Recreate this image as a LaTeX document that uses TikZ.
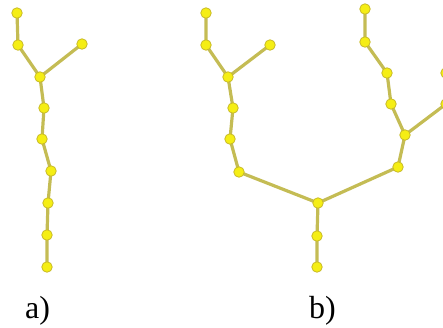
\documentclass[tikz,border=0pt]{standalone}
\usepackage{fontspec}
\setmainfont{Liberation Serif}
\usepackage{xcolor}
\usetikzlibrary{backgrounds}
\definecolor{stemcol}{RGB}{196,188,84}
\definecolor{beadcol}{RGB}{245,238,20}
\definecolor{rimcol}{RGB}{200,186,40}
\begin{document}
\begin{tikzpicture}[x=1pt,y=-1pt,
  bead/.style={shape=circle,fill=beadcol,draw=rimcol,line width=0.8pt,minimum size=10.5pt,inner sep=0pt},
  stem/.style={draw=stemcol,line width=3.2pt},
  lbl/.style={anchor=base west,inner sep=0pt,font=\fontsize{32}{38}\selectfont}]
\useasboundingbox(0,0)rectangle(443,327);
\clip(0,0)rectangle(443,327);
% a) single chain
\node[bead](a1)at(17,13){};
\node[bead](a2)at(18,45){};
\node[bead](a3)at(82,44){};
\node[bead](a4)at(40,77){};
\node[bead](a5)at(44,108){};
\node[bead](a6)at(42,139){};
\node[bead](a7)at(51,171){};
\node[bead](a8)at(48,203){};
\node[bead](a9)at(47,235){};
\node[bead](a10)at(47,267){};
% b) branched chain
\node[bead](b1)at(206,13){};
\node[bead](b2)at(206,45){};
\node[bead](b3)at(270,45){};
\node[bead](b4)at(228,77){};
\node[bead](b5)at(233,108){};
\node[bead](b6)at(230,139){};
\node[bead](b7)at(239,172){};
\node[bead](c1)at(318,203){};
\node[bead](c2)at(317,236){};
\node[bead](c3)at(317,267){};
\node[bead](r7)at(398,167){};
\node[bead](r6)at(405,135){};
\node[bead](r5)at(391,104){};
\node[bead](r4)at(387,73){};
\node[bead](r3)at(365,42){};
\node[bead](r2)at(365,9){};
\node[bead](s1)at(446,104){};
\node[bead](s2)at(446,73){};
\begin{pgfonlayer}{background}
\draw[stem](a1.center)--(a2.center)--(a4.center)--(a5.center)--(a6.center)--(a7.center)--(a8.center)--(a9.center)--(a10.center)
(a3.center)--(a4.center);
\draw[stem](b1.center)--(b2.center)--(b4.center)--(b5.center)--(b6.center)--(b7.center)--(c1.center)--(c2.center)--(c3.center)
(b3.center)--(b4.center)
(c1.center)--(r7.center)--(r6.center)--(r5.center)--(r4.center)--(r3.center)--(r2.center)
(r6.center)--(s1.center)--(s2.center);
\end{pgfonlayer}
\node[lbl](la)at(25,318){a)};
\node[lbl](lb)at(309,318){b)};
\end{tikzpicture}
\end{document}
